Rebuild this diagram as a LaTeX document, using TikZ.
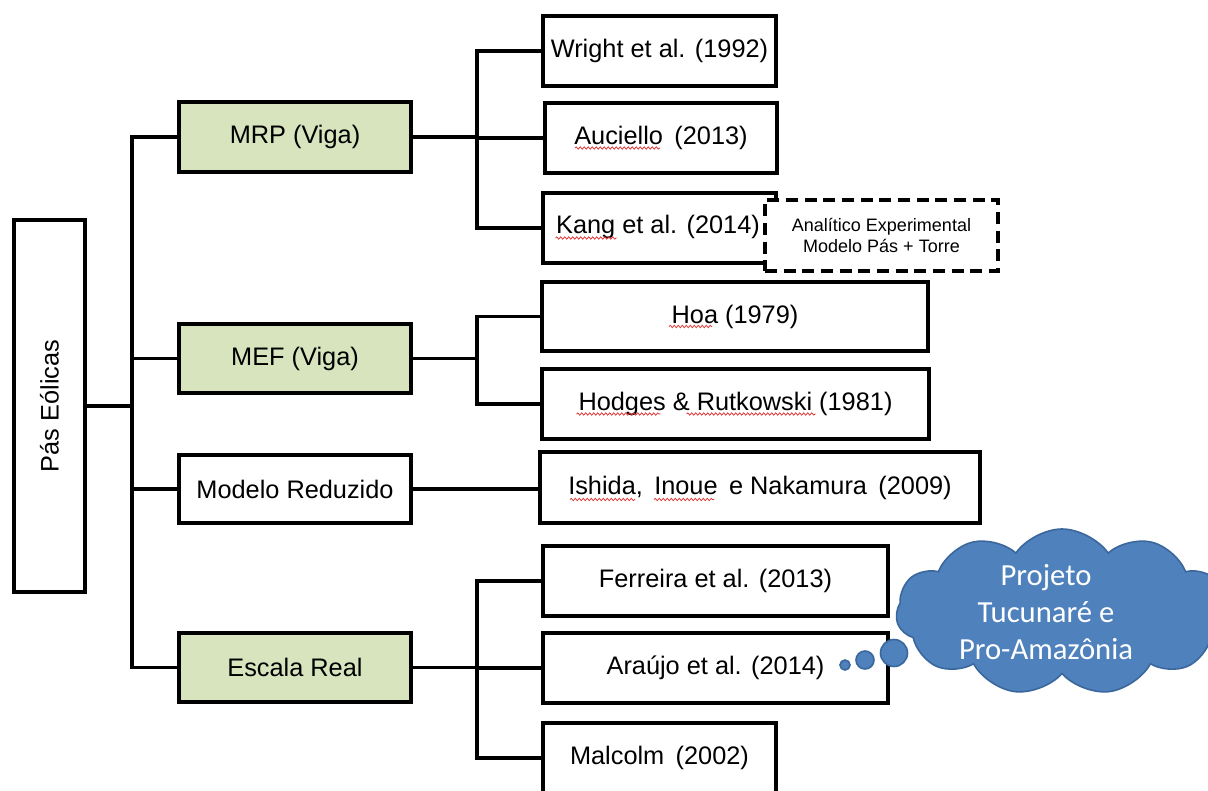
\documentclass[tikz,border=0pt]{standalone}
\usepackage{fontspec}
\setmainfont{Liberation Sans}
\newfontfamily\cloudfont{Carlito}
\usetikzlibrary{shapes.symbols,decorations.pathmorphing,calc}

\definecolor{leafgreen}{HTML}{D7E4BD}
\definecolor{cloudblue}{HTML}{4F81BD}
\definecolor{cloudedge}{HTML}{3A679C}
\definecolor{spellred}{HTML}{E03030}

\newcommand{\gap}{\hspace{0.45em}}

\tikzset{
  box/.style 2 args={draw=black, line width=2.3pt, fill=white,
    minimum width=#1*0.75pt, minimum height=#2*0.75pt,
    inner sep=0pt, outer sep=0pt, font=\fontsize{19}{23}\selectfont},
  greenbox/.style 2 args={box={#1}{#2}, fill=leafgreen},
  notebox/.style 2 args={box={#1}{#2}, dashed, dash pattern=on 9pt off 5pt,
    font=\fontsize{13.5}{15.5}\selectfont, align=center},
  wire/.style={line width=2.3pt, line cap=rect},
  thought/.style={fill=cloudblue, draw=cloudedge, line width=1.2pt},
  squiggle/.style={draw=spellred, line width=0.55pt,
    decorate, decoration={snake, amplitude=0.9pt, segment length=3pt}}
}

\begin{document}
\begin{tikzpicture}[x=0.75pt, y=-0.75pt]
  \useasboundingbox (0,0) rectangle (1208,790);
  \clip (0,0) rectangle (1208,790);

  % root and first level
  \node[box={71}{372}] (root) at (49.5,406) {};
  \node[rotate=90, font=\fontsize{19}{23}\selectfont] (roottext) at (root.center) {Pás Eólicas};

  \node[greenbox={232}{70}] (mrp) at (295,137) {MRP (Viga)};
  \node[greenbox={232}{69}] (mef) at (295,358.5) {MEF (Viga)};
  \node[box={232}{68}] (mr) at (295,489) {Modelo Reduzido};
  \node[greenbox={232}{69}] (er) at (295,667.5) {Escala Real};

  % references
  \node[box={233}{70}] (wri) at (659.5,51) {Wright et al. (1992)};
  \node[box={232}{70}] (auc) at (661,138) {Auciello\gap(2013)};
  \node[box={233}{70}] (kan) at (659.5,228) {};
  \node[font=\fontsize{19}{23}\selectfont] (kantext) at (658,227) {Kang et al. (2014)};
  \node[notebox={233}{71}] (note) at (881.5,235.5) {Analítico Experimental\\Modelo Pás + Torre};

  \node[box={386}{69}] (hoa) at (735,316.5) {Hoa (1979)};
  \node[box={387}{70}] (hod) at (735.5,404) {Hodges \& Rutkowski (1981)};
  \node[box={440}{71}] (ish) at (760,487.5) {Ishida,\gap Inoue\gap e Nakamura\gap(2009)};

  \node[box={345}{70}] (fer) at (715.5,581) {Ferreira et al. (2013)};
  \node[box={345}{70}] (ara) at (715.5,668) {Araújo et al. (2014)};
  \node[box={233}{70}] (mal) at (659.5,758) {Malcolm\gap(2002)};

  % trunk and branch columns
  \coordinate (trunk) at (132,0);
  \coordinate (fork) at (477,0);

  \draw[wire] (mrp.west -| trunk) -- (er.west -| trunk);
  \draw[wire] (root.east) -- (root.east -| trunk);
  \foreach \n in {mrp,mef,mr,er}
    \draw[wire] (\n.west -| trunk) -- (\n.west);

  % MRP branch
  \draw[wire] (mrp.east) -- (mrp.east -| fork);
  \draw[wire] (wri.west -| fork) -- (kan.west -| fork);
  \foreach \n in {wri,auc,kan}
    \draw[wire] (\n.west -| fork) -- (\n.west);

  % MEF branch
  \draw[wire] (mef.east) -- (mef.east -| fork);
  \draw[wire] (hoa.west -| fork) -- (hod.west -| fork);
  \foreach \n in {hoa,hod}
    \draw[wire] (\n.west -| fork) -- (\n.west);

  % reduced model
  \draw[wire] (mr.east) -- (mr.east -| ish.west);

  % full scale branch
  \draw[wire] (er.east) -- (er.east -| fork);
  \draw[wire] (fer.west -| fork) -- (mal.west -| fork);
  \foreach \n in {fer,ara,mal}
    \draw[wire] (\n.west -| fork) -- (\n.west);

  % spell-check marks
  \draw[squiggle] ($(auc.center)+(-86,10)$) -- ++(85,0);
  \draw[squiggle] ($(kan.center)+(-104,10)$) -- ++(61,0);
  \draw[squiggle] ($(hoa.center)+(-66,10)$) -- ++(43,0);
  \draw[squiggle] ($(hod.center)+(-159,10)$) -- ++(84,0);
  \draw[squiggle] ($(hod.center)+(-49,10)$) -- ++(129,0);
  \draw[squiggle] ($(ish.center)+(-190,12)$) -- ++(65,0);
  \draw[squiggle] ($(ish.center)+(-106,12)$) -- ++(60,0);

  % thought cloud
  \node[thought, circle, minimum size=10*0.75pt, inner sep=0pt] (p1) at (845,665) {};
  \node[thought, circle, minimum size=18*0.75pt, inner sep=0pt] (p2) at (865,660) {};
  \node[thought, circle, minimum size=27*0.75pt, inner sep=0pt] (p3) at (894,653) {};
  \node[thought, cloud, cloud puffs=11, cloud puff arc=110,
        minimum width=332*0.75pt, minimum height=166*0.75pt, inner sep=0pt] (cloud) at (1062,612) {};
  \node[text=white, align=center, font=\cloudfont\fontsize{23}{28}\selectfont] (cloudtext) at (1046,612)
    {Projeto\\Tucunaré e\\Pro-Amazônia};
\end{tikzpicture}
\end{document}
